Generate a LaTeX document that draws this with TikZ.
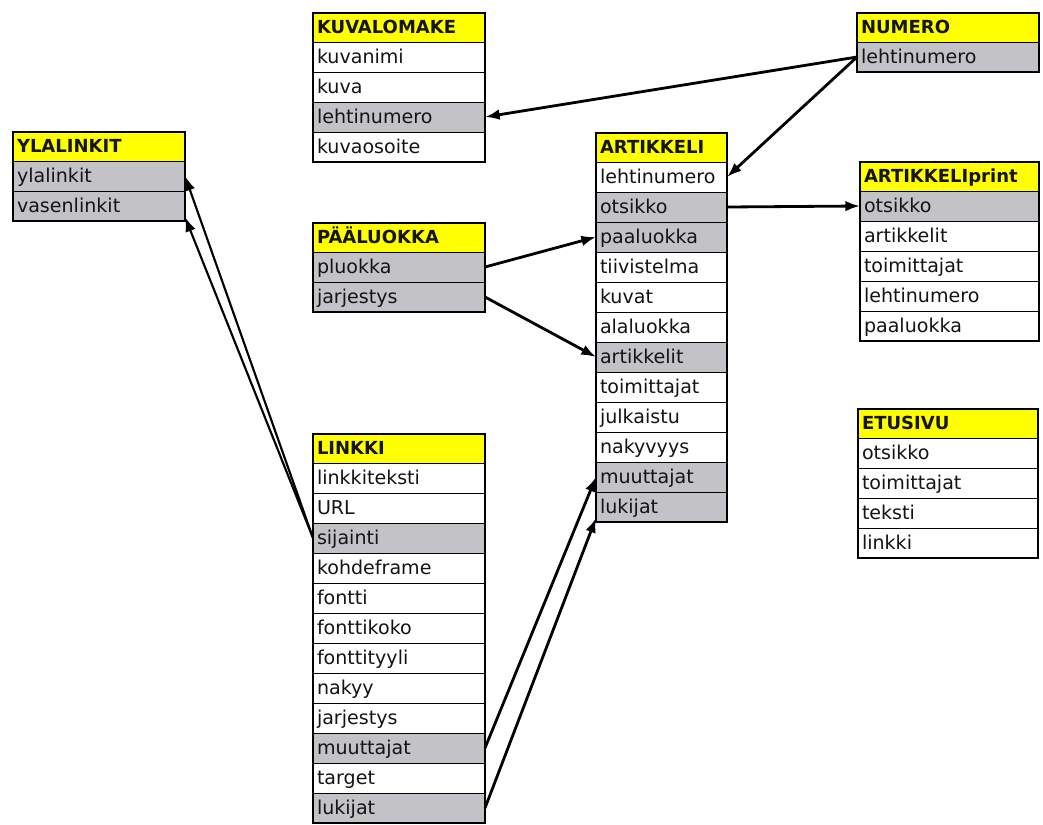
\documentclass[tikz,border=0pt]{standalone}
\usepackage{fontspec}
\setmainfont{DejaVu Sans}
\usepackage{tikz}
\usetikzlibrary{arrows.meta,positioning}
\definecolor{hdryellow}{RGB}{255,255,0}
\definecolor{keygray}{RGB}{195,195,199}
\definecolor{ink}{RGB}{20,20,20}
\tikzset{
  cell/.style  = {draw=black, line width=0.75pt, outer sep=0pt, inner xsep=3pt,
                  inner ysep=0pt, minimum height=22.5pt, text height=11pt,
                  text depth=2pt, align=left, text=ink,
                  font=\fontsize{14.3}{16}\selectfont},
  hdr/.style   = {cell, fill=hdryellow, minimum height=21.75pt,
                  font=\fontsize{13.5}{15}\selectfont\bfseries},
  fld/.style   = {cell, fill=white},
  keyf/.style  = {cell, fill=keygray},
  frame/.style = {draw=black, line width=1.6pt},
  link/.style  = {-{Latex[length=11pt,width=8pt]}, draw=black, line width=2.1pt},
}
\begin{document}
\begin{tikzpicture}[x=0.75pt, y=-0.75pt, node distance=0pt]
\fill[white] (0,0) rectangle (1043,825);
\useasboundingbox (0,0) rectangle (1043,825);

% YLALINKIT
\begin{scope}[nodes={text width=123pt}]
\node[hdr, anchor=north west] (yla-h) at (13,132) {YLALINKIT};
\node[keyf, below=of yla-h] (yla-1) {ylalinkit};
\node[keyf, below=of yla-1] (yla-2) {vasenlinkit};
\end{scope}
\draw[frame] (yla-h.north west) rectangle (yla-2.south east);

% KUVALOMAKE
\begin{scope}[nodes={text width=123pt}]
\node[hdr, anchor=north west] (kuva-h) at (313,13) {KUVALOMAKE};
\node[fld, below=of kuva-h] (kuva-1) {kuvanimi};
\node[fld, below=of kuva-1] (kuva-2) {kuva};
\node[keyf, below=of kuva-2] (kuva-3) {lehtinumero};
\node[fld, below=of kuva-3] (kuva-4) {kuvaosoite};
\end{scope}
\draw[frame] (kuva-h.north west) rectangle (kuva-4.south east);

% PÄÄLUOKKA
\begin{scope}[nodes={text width=123pt}]
\node[hdr, anchor=north west] (paa-h) at (313,223) {PÄÄLUOKKA};
\node[keyf, below=of paa-h] (paa-1) {pluokka};
\node[keyf, below=of paa-1] (paa-2) {jarjestys};
\end{scope}
\draw[frame] (paa-h.north west) rectangle (paa-2.south east);

% LINKKI
\begin{scope}[nodes={text width=123pt}]
\node[hdr, anchor=north west] (link-h) at (313,434) {LINKKI};
\node[fld, below=of link-h] (link-1) {linkkiteksti};
\node[fld, below=of link-1] (link-2) {URL};
\node[keyf, below=of link-2] (link-3) {sijainti};
\node[fld, below=of link-3] (link-4) {kohdeframe};
\node[fld, below=of link-4] (link-5) {fontti};
\node[fld, below=of link-5] (link-6) {fonttikoko};
\node[fld, below=of link-6] (link-7) {fonttityyli};
\node[fld, below=of link-7] (link-8) {nakyy};
\node[fld, below=of link-8] (link-9) {jarjestys};
\node[keyf, below=of link-9] (link-10) {muuttajat};
\node[fld, below=of link-10] (link-11) {target};
\node[keyf, below=of link-11] (link-12) {lukijat};
\end{scope}
\draw[frame] (link-h.north west) rectangle (link-12.south east);

% ARTIKKELI
\begin{scope}[nodes={text width=92.25pt}]
\node[hdr, anchor=north west] (art-h) at (596,133) {ARTIKKELI};
\node[fld, below=of art-h] (art-1) {lehtinumero};
\node[keyf, below=of art-1] (art-2) {otsikko};
\node[keyf, below=of art-2] (art-3) {paaluokka};
\node[fld, below=of art-3] (art-4) {tiivistelma};
\node[fld, below=of art-4] (art-5) {kuvat};
\node[fld, below=of art-5] (art-6) {alaluokka};
\node[keyf, below=of art-6] (art-7) {artikkelit};
\node[fld, below=of art-7] (art-8) {toimittajat};
\node[fld, below=of art-8] (art-9) {julkaistu};
\node[fld, below=of art-9] (art-10) {nakyvyys};
\node[keyf, below=of art-10] (art-11) {muuttajat};
\node[keyf, below=of art-11] (art-12) {lukijat};
\end{scope}
\draw[frame] (art-h.north west) rectangle (art-12.south east);

% NUMERO
\begin{scope}[nodes={text width=130.5pt}]
\node[hdr, anchor=north west] (num-h) at (857,13) {NUMERO};
\node[keyf, below=of num-h] (num-1) {lehtinumero};
\end{scope}
\draw[frame] (num-h.north west) rectangle (num-1.south east);

% ARTIKKELIprint
\begin{scope}[nodes={text width=128.25pt}]
\node[hdr, anchor=north west] (artp-h) at (860,162) {ARTIKKELIprint};
\node[keyf, below=of artp-h] (artp-1) {otsikko};
\node[fld, below=of artp-1] (artp-2) {artikkelit};
\node[fld, below=of artp-2] (artp-3) {toimittajat};
\node[fld, below=of artp-3] (artp-4) {lehtinumero};
\node[fld, below=of artp-4] (artp-5) {paaluokka};
\end{scope}
\draw[frame] (artp-h.north west) rectangle (artp-5.south east);

% ETUSIVU
\begin{scope}[nodes={text width=129pt}]
\node[hdr, anchor=north west] (etu-h) at (858,409) {ETUSIVU};
\node[fld, below=of etu-h] (etu-1) {otsikko};
\node[fld, below=of etu-1] (etu-2) {toimittajat};
\node[fld, below=of etu-2] (etu-3) {teksti};
\node[fld, below=of etu-3] (etu-4) {linkki};
\end{scope}
\draw[frame] (etu-h.north west) rectangle (etu-4.south east);

% connectors
\draw[link] (num-1.west) -- (kuva-3.east);
\draw[link] (num-1.west) -- (art-1.east);
\draw[link] (art-2.east) -- (artp-1.west);
\draw[link] (paa-1.east) -- (art-3.west);
\draw[link] (paa-2.east) -- (art-7.west);
\draw[link, line width=1.6pt] (link-3.west) -- (yla-1.east);
\draw[link, line width=1.6pt] (link-3.west) -- ([yshift=3pt]yla-2.south east);
\draw[link] (link-10.east) -- (art-11.west);
\draw[link] (link-12.east) -- ([yshift=3pt]art-12.south west);
\end{tikzpicture}
\end{document}
